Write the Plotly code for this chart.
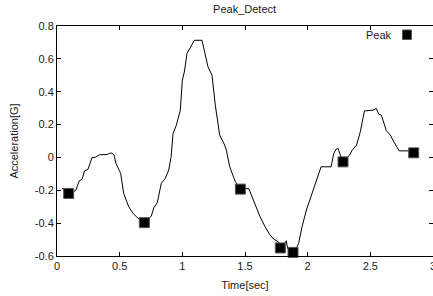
import plotly.graph_objects as go

# Signal curve
time_s = [0.04, 0.07, 0.09, 0.12, 0.15, 0.178, 0.20, 0.22, 0.247, 0.28, 0.305, 0.338, 0.40, 0.43,
          0.455, 0.47, 0.508, 0.532, 0.572, 0.604, 0.646, 0.70, 0.752, 0.774, 0.80, 0.832, 0.864,
          0.891, 0.91, 0.926, 0.952, 0.984, 1.0, 1.016, 1.037, 1.064, 1.096, 1.157, 1.183, 1.205,
          1.237, 1.263, 1.298, 1.338, 1.351, 1.37, 1.378, 1.423, 1.463, 1.53, 1.57, 1.596, 1.62,
          1.66, 1.70, 1.73, 1.765, 1.782, 1.81, 1.83, 1.84, 1.883, 1.905, 1.928, 1.955, 1.99,
          2.035, 2.065, 2.107, 2.187, 2.208, 2.227, 2.243, 2.256, 2.283, 2.335, 2.355, 2.39, 2.42,
          2.453, 2.522, 2.548, 2.567, 2.588, 2.628, 2.66, 2.687, 2.73, 2.806, 2.846, 2.886]
accel = [-0.19, -0.195, -0.22, -0.215, -0.20, -0.142, -0.134, -0.081, -0.073, 0.0, 0.0, 0.016, 0.018,
         0.028, 0.016, -0.036, -0.097, -0.219, -0.30, -0.337, -0.371, -0.397, -0.357, -0.304,
         -0.276, -0.158, -0.128, -0.077, 0.0, 0.146, 0.196, 0.288, 0.47, 0.52, 0.632, 0.672, 0.713,
         0.713, 0.632, 0.551, 0.50, 0.318, 0.136, 0.075, 0.044, -0.016, -0.057, -0.148, -0.193,
         -0.189, -0.27, -0.32, -0.361, -0.422, -0.472, -0.498, -0.513, -0.55, -0.53, -0.507,
         -0.555, -0.578, -0.56, -0.523, -0.422, -0.32, -0.219, -0.16, -0.057, -0.057, 0.024,
         0.05, 0.055, 0.024, -0.024, 0.014, 0.044, 0.075, 0.156, 0.283, 0.288, 0.298, 0.263,
         0.257, 0.162, 0.136, 0.095, 0.04, 0.04, 0.032, 0.032]

# Detected peaks
peak_t = [0.093, 0.697, 1.463, 1.782, 1.883, 2.282, 2.846]
peak_v = [-0.219, -0.397, -0.193, -0.551, -0.578, -0.027, 0.028]

x_ticks = [0, 0.5, 1, 1.5, 2, 2.5, 3]
x_tick_text = ["0", "0.5", "1", "1.5", "2", "2.5", "3"]
y_ticks = [-0.6, -0.4, -0.2, 0, 0.2, 0.4, 0.6, 0.8]
y_tick_text = ["-0.6", "-0.4", "-0.2", "0", "0.2", "0.4", "0.6", "0.8"]

FONT = "Liberation Sans, Arial, sans-serif"
TXT = "#1a1a1a"

fig = go.Figure()
fig.add_trace(go.Scatter(x=time_s, y=accel, mode="lines",
                         line=dict(color="black", width=1), showlegend=False))
fig.add_trace(go.Scatter(x=peak_t, y=peak_v, mode="markers", name="Peak",
                         marker=dict(symbol="square", size=10, color="black",
                                     line=dict(color="#555555", width=1)),
                         showlegend=False, cliponaxis=False))

axis_common = dict(showline=True, linecolor="black", linewidth=1, mirror="ticks",
                   ticks="inside", ticklen=4, tickcolor="black", showgrid=False,
                   zeroline=False, automargin=False, ticklabeloverflow="allow",
                   tickfont=dict(family=FONT, size=11, color=TXT))

fig.update_layout(
    width=433, height=296,
    margin=dict(l=57, r=0, t=26, b=40),
    paper_bgcolor="white", plot_bgcolor="white",
    title=dict(text="Peak_Detect", x=0.5649, xanchor="center", y=0.97, yanchor="middle",
               font=dict(family=FONT, size=11, color=TXT)),
    xaxis=dict(range=[0, 3], tickvals=x_ticks, ticktext=x_tick_text,
               title=dict(text="Time[sec]", font=dict(family=FONT, size=11, color=TXT), standoff=10),
               **axis_common),
    yaxis=dict(range=[-0.6, 0.8], tickvals=y_ticks, ticktext=y_tick_text,
               title=dict(text="Acceleration[G]", font=dict(family=FONT, size=11, color=TXT), standoff=13),
               **axis_common),
    showlegend=False,
)

# legend-like key: text left of symbol
fig.add_annotation(text="Peak", xref="paper", yref="paper", x=0.897, y=0.96,
                   xanchor="right", yanchor="middle", showarrow=False,
                   font=dict(family=FONT, size=11, color=TXT))
fig.add_shape(type="rect", xref="paper", yref="paper",
              x0=0.9187, x1=0.9426, y0=0.9414, y1=0.9828,
              fillcolor="black", line=dict(color="#555555", width=1))

fig.write_html("out.html", config={"displayModeBar": False},
               post_script="document.body.style.margin='0';document.body.style.overflow='hidden';")
